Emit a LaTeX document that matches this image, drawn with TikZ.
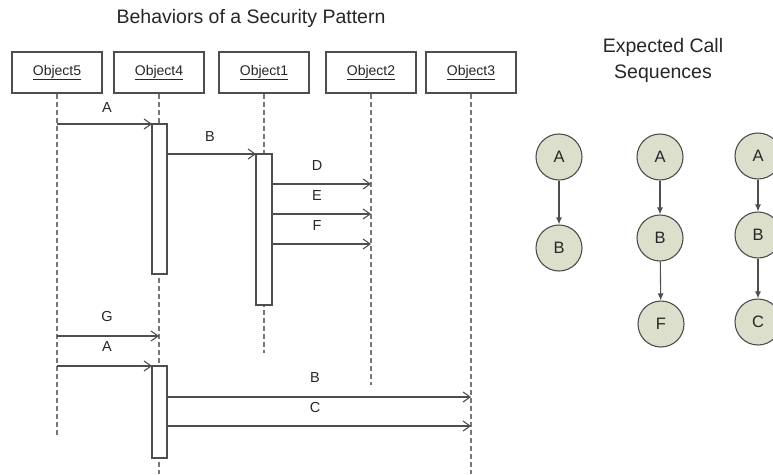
\documentclass[tikz,border=0pt]{standalone}
\usepackage{fontspec}
\setmainfont{Liberation Sans}
\usetikzlibrary{arrows.meta}
\definecolor{linegray}{HTML}{4E4E4E}
\definecolor{dashgray}{HTML}{777777}
\definecolor{nodefill}{HTML}{DCDFCB}
\begin{document}
\begin{tikzpicture}[x=1pt,y=-1pt,
  objbox/.style={draw=linegray,line width=1.1pt,fill=white,minimum width=90pt,minimum height=41pt,inner sep=0pt,font=\fontsize{14}{16}\selectfont,text=black!85},
  lifeline/.style={draw=dashgray,line width=1.2pt,dash pattern=on 5pt off 3pt},
  actbox/.style={draw=linegray,line width=1.1pt,fill=white},
  msg/.style={draw=linegray,line width=1.2pt,-{Straight Barb[length=7pt,width=10pt,line width=1.1pt]}},
  msglabel/.style={font=\fontsize{14.5}{16}\selectfont,text=black!85},
  callnode/.style={circle,draw=linegray,line width=1.1pt,fill=nodefill,minimum size=46pt,inner sep=0pt,font=\fontsize{16.5}{18}\selectfont,text=black!85},
  callarrow/.style={draw=linegray,line width=1.1pt,-{Latex[length=7pt,width=6pt]}},
  heading/.style={font=\fontsize{19.5}{26}\selectfont,text=black!85,align=center}]
\useasboundingbox (0,0) rectangle (773,474);

% titles
\node[heading] (title) at (251,18) {Behaviors of a Security Pattern};
\node[heading] (seqtitle) at (663,60) {Expected Call\\Sequences};

% object heads
\node[objbox] (o5) at (57,72.5) {\underline{Object5}};
\node[objbox] (o4) at (159,72.5) {\underline{Object4}};
\node[objbox] (o1) at (264,72.5) {\underline{Object1}};
\node[objbox] (o2) at (371,72.5) {\underline{Object2}};
\node[objbox] (o3) at (471,72.5) {\underline{Object3}};

% lifeline ends
\coordinate (e5) at (57,435);
\coordinate (e4) at (159,474);
\coordinate (e1) at (264,353);
\coordinate (e2) at (371,385);
\coordinate (e3) at (471,474);
\draw[lifeline] (o5.south) -- (e5);
\draw[lifeline] (o4.south) -- (e4);
\draw[lifeline] (o1.south) -- (e1);
\draw[lifeline] (o2.south) -- (e2);
\draw[lifeline] (o3.south) -- (e3);

% activation bar corners
\path (152,124) coordinate (a4t) (167,274) coordinate (a4b);
\path (256,154) coordinate (a1t) (272,305) coordinate (a1b);
\path (152,366) coordinate (b4t) (167,458) coordinate (b4b);

% message anchors
\coordinate (mA1) at (57,124);
\coordinate (mB1s) at (167,154);
\coordinate (mDs) at (272,184);
\coordinate (mDe) at (371,184);
\coordinate (mEs) at (272,214);
\coordinate (mEe) at (371,214);
\coordinate (mFs) at (272,244);
\coordinate (mFe) at (371,244);
\coordinate (mGs) at (57,336);
\coordinate (mGe) at (159,336);
\coordinate (mA2) at (57,366);
\coordinate (mB2s) at (167,397);
\coordinate (mB2e) at (471,397);
\coordinate (mCs) at (167,426);
\coordinate (mCe) at (471,426);

% messages
\draw[msg] (mA1) -- (a4t);
\draw[msg] (mB1s) -- (a1t);
\draw[msg] (mDs) -- (mDe);
\draw[msg] (mEs) -- (mEe);
\draw[msg] (mFs) -- (mFe);
\draw[msg] (mGs) -- (mGe);
\draw[msg] (mA2) -- (b4t);
\draw[msg] (mB2s) -- (mB2e);
\draw[msg] (mCs) -- (mCe);

% activation bars on top of the incoming arrow tips
\draw[actbox] (a4t) rectangle (a4b);
\draw[actbox] (a1t) rectangle (a1b);
\draw[actbox] (b4t) rectangle (b4b);

% message labels
\node[msglabel] (lA1) at (107,108) {A};
\node[msglabel] (lB1) at (210,137) {B};
\node[msglabel] (lD) at (317,166) {D};
\node[msglabel] (lE) at (317,196) {E};
\node[msglabel] (lF) at (317,226) {F};
\node[msglabel] (lG) at (107,317) {G};
\node[msglabel] (lA2) at (107,347) {A};
\node[msglabel] (lB2) at (315,378) {B};
\node[msglabel] (lC) at (315,408) {C};

% expected call sequences
\node[callnode] (s1a) at (559,157) {A};
\node[callnode] (s1b) at (559,248) {B};
\node[callnode] (s2a) at (660,157) {A};
\node[callnode] (s2b) at (660,238) {B};
\node[callnode] (s2f) at (661,324) {F};
\node[callnode] (s3a) at (758,156) {A};
\node[callnode] (s3b) at (758,235) {B};
\node[callnode] (s3c) at (758,322) {C};
\draw[callarrow] (s1a) -- (s1b);
\draw[callarrow] (s2a) -- (s2b);
\draw[callarrow] (s2b) -- (s2f);
\draw[callarrow] (s3a) -- (s3b);
\draw[callarrow] (s3b) -- (s3c);
\end{tikzpicture}
\end{document}
